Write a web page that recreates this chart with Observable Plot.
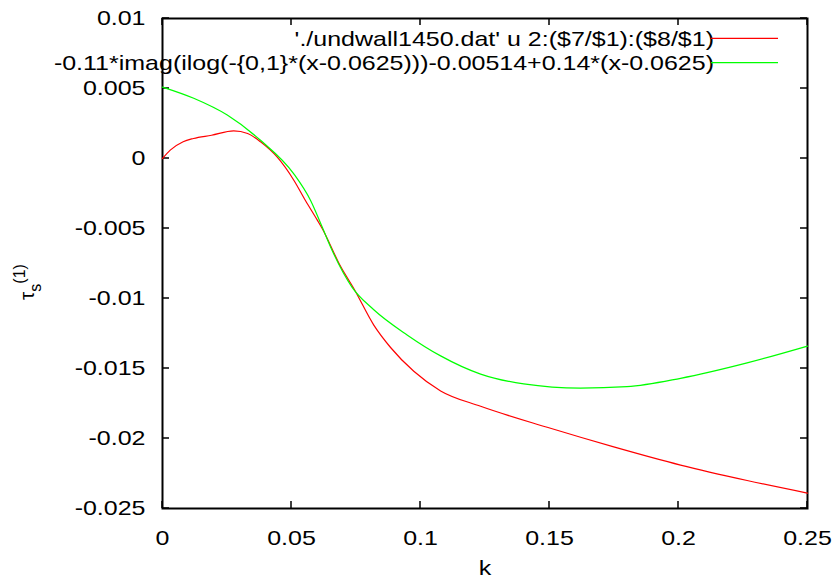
<!DOCTYPE html>
<html>
<head>
<meta charset="utf-8">
<script src="https://cdn.jsdelivr.net/npm/d3@7"></script>
<script src="https://cdn.jsdelivr.net/npm/@observablehq/plot@0.6"></script>
<style>
  html, body { margin: 0; padding: 0; background: white; }
  svg { display: block; }
</style>
</head>
<body>
<div id="chart"></div>
<script>
// Red series: './undwall1450.dat' u 2:($7/$1):($8/$1)
const kRed = [0, 0.003, 0.008, 0.012, 0.019, 0.0276, 0.033, 0.038, 0.0444, 0.0509, 0.0554, 0.06, 0.0619, 0.069, 0.0742, 0.0819, 0.0884, 0.0974, 0.1078, 0.1233, 0.1491, 0.1749, 0.2008, 0.2266, 0.25];
const vRed = [0, 0.0006, 0.0012, 0.00143, 0.00166, 0.00197, 0.00179, 0.00119, 0.00011, -0.00155, -0.003, -0.0044, -0.0050, -0.0077, -0.0093, -0.0119, -0.0135, -0.0152, -0.0166, -0.0177, -0.0192, -0.0206, -0.0219, -0.0230, -0.0239];

// Green series: fitted function
const kGreen = [0, 0.0121, 0.0251, 0.038, 0.0509, 0.0574, 0.0619, 0.0651, 0.0735, 0.0819, 0.0948, 0.1078, 0.1233, 0.14, 0.162, 0.18, 0.2008, 0.2266, 0.25];
const vGreen = [0.0051, 0.0043, 0.0031, 0.0013, -0.0011, -0.003, -0.0049, -0.0063, -0.0092, -0.0108, -0.0126, -0.0141, -0.0154, -0.0161, -0.0164, -0.0163, -0.0157, -0.0146, -0.0134];

const seriesNames = ["'./undwall1450.dat' u 2:($7/$1):($8/$1)", "-0.11*imag(ilog(-{0,1}*(x-0.0625)))-0.00514+0.14*(x-0.0625)"];
const seriesColors = ["#ff0000", "#00ff00"];

const xTicks = [0, 0.05, 0.1, 0.15, 0.2, 0.25];
const xTickLabels = ["0", "0.05", "0.1", "0.15", "0.2", "0.25"];
const yTicks = [-0.025, -0.02, -0.015, -0.01, -0.005, 0, 0.005, 0.01];
const yTickLabels = ["-0.025", "-0.02", "-0.015", "-0.01", "-0.005", "0", "0.005", "0.01"];

const xLabel = "k";

const red = kRed.map((k, i) => ({k, v: vRed[i]}));
const green = kGreen.map((k, i) => ({k, v: vGreen[i]}));
const xTickData = xTicks.map((v, i) => ({v, label: xTickLabels[i]}));
const yTickData = yTicks.map((v, i) => ({v, label: yTickLabels[i]}));

const FONT = "'Liberation Sans', Arial, Helvetica, sans-serif";
const STRETCH = 1.19;
const INK = "#000000";
const PLOT_W = 645, PLOT_H = 490, TICK = 7, TW = 0.75;

const chart = Plot.plot({
  width: 838,
  height: 580,
  marginLeft: 162,
  marginRight: 31,
  marginTop: 18,
  marginBottom: 72,
  x: {domain: [0, 0.25], axis: null},
  y: {domain: [-0.025, 0.01], axis: null},
  style: {fontFamily: FONT, fontSize: "21px", background: "white", color: INK, overflow: "visible"},
  marks: [
    // border drawn as filled shapes: black box, white interior
    Plot.frame({fill: INK, stroke: null, inset: -1}),
    Plot.frame({fill: "white", stroke: null, inset: 1}),
    // inward ticks as thin filled rectangles
    Plot.rect(xTickData, {x1: "v", x2: "v", fill: INK, insetLeft: -TW, insetRight: -TW, insetTop: PLOT_H - TICK}),
    Plot.rect(xTickData, {x1: "v", x2: "v", fill: INK, insetLeft: -TW, insetRight: -TW, insetBottom: PLOT_H - TICK}),
    Plot.rect(yTickData, {y1: "v", y2: "v", fill: INK, insetTop: -TW, insetBottom: -TW, insetRight: PLOT_W - TICK}),
    Plot.rect(yTickData, {y1: "v", y2: "v", fill: INK, insetTop: -TW, insetBottom: -TW, insetLeft: PLOT_W - TICK}),
    // data
    Plot.line(red, {x: "k", y: "v", stroke: seriesColors[0], strokeWidth: 1.2, curve: "monotone-x"}),
    Plot.line(green, {x: "k", y: "v", stroke: seriesColors[1], strokeWidth: 1.2, curve: "monotone-x"}),
    // tick labels and axis title
    Plot.text(xTickData, {x: "v", text: "label", frameAnchor: "bottom", dy: 22, lineAnchor: "top", fill: INK}),
    Plot.text(yTickData, {y: "v", text: "label", frameAnchor: "left", dx: -17, textAnchor: "end", fill: INK}),
    Plot.text([{label: xLabel}], {text: "label", frameAnchor: "bottom", dy: 60, lineAnchor: "middle", fill: INK})
  ]
});

document.getElementById("chart").appendChild(chart);

const svg = d3.select(chart);

// legend (top right, inside)
const legendRows = [38.3, 62.7];
const lg = svg.append("g").attr("font-family", FONT).attr("font-size", 21);
seriesNames.forEach((name, i) => {
  lg.append("text")
    .attr("x", 714).attr("y", legendRows[i]).attr("dy", "0.36em")
    .attr("text-anchor", "end").attr("fill", INK).text(name);
  lg.append("line")
    .attr("x1", 711).attr("x2", 778)
    .attr("y1", legendRows[i]).attr("y2", legendRows[i])
    .attr("stroke", seriesColors[i]).attr("stroke-width", 1.2);
});

// y label: tau_s^(1), rotated
const yl = svg.append("text")
  .attr("transform", "translate(34,282) rotate(-90)")
  .attr("font-family", FONT).attr("font-size", 21).attr("fill", INK);
yl.append("tspan").text("τ");
yl.append("tspan").attr("font-size", 16).attr("dy", 7).text("s");
yl.append("tspan").attr("font-size", 16).attr("dy", -16).text("(1)");

// horizontal stretch of all text to match the reference's wide glyphs
svg.selectAll("text").each(function() {
  const el = this;
  if (el.querySelector("tspan")) return;
  const len = el.getComputedTextLength();
  if (len > 0) {
    el.setAttribute("textLength", (len * STRETCH).toFixed(2));
    el.setAttribute("lengthAdjust", "spacingAndGlyphs");
  }
});
</script>
</body>
</html>
